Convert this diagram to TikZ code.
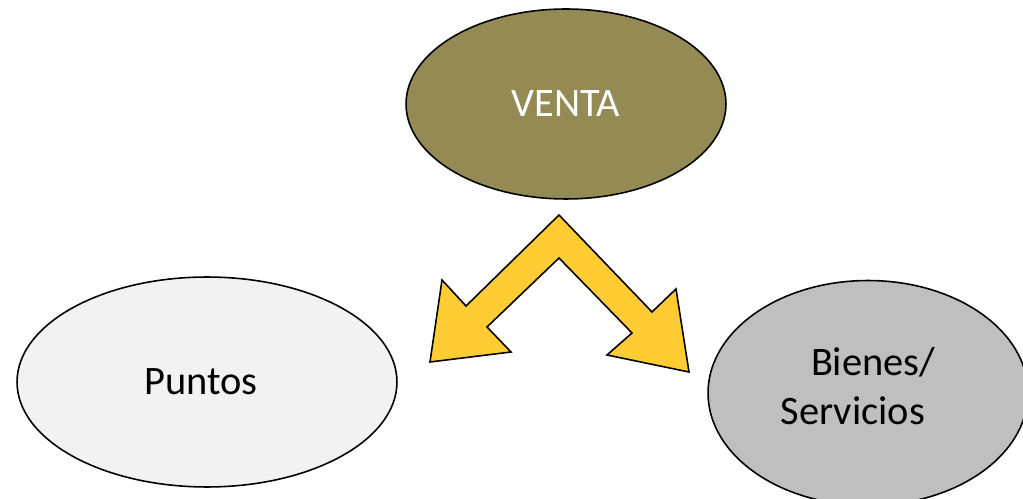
\documentclass[tikz,border=0pt]{standalone}
\usepackage{fontspec}
\setmainfont{Carlito}
\usetikzlibrary{shapes.geometric}

\definecolor{olivo}{HTML}{948A54}
\definecolor{grisclaro}{HTML}{F2F2F2}
\definecolor{grismedio}{HTML}{BFBFBF}
\definecolor{amarillo}{HTML}{FFCD33}

\tikzset{
    burbuja/.style={ellipse, draw, line width=0.9pt, font=\fontsize{23}{28}\selectfont},
    rotulo/.style={font=\fontsize{23}{28}\selectfont, align=center},
}

\begin{document}
\begin{tikzpicture}[x=0.02cm, y=-0.02cm]
        \useasboundingbox (0, 0) rectangle (1023, 499);
        \clip (0, 0) rectangle (1023, 499);
        \node[burbuja, fill=olivo, text=white, minimum width=6.4cm, minimum height=3.8cm] (venta) at (566, 104) {VENTA};
        \node[burbuja, fill=grisclaro, minimum width=7.6cm, minimum height=4.2cm] (puntos) at (207, 382) {\hspace*{-0.3em}Puntos};
        \node[burbuja, fill=grismedio, minimum width=6.4cm, minimum height=4.5cm] (bienes) at (868, 393) {};
        \node[rotulo] (bienestxt) at (868, 386) {\hspace*{0.25em}Bienes/\\Servicios\hspace*{0.75em}};
        % doble flecha
        \draw[fill=amarillo, line width=0.9pt, line join=miter] (559, 215) -- (466, 306) -- (442, 280) -- (430, 362) -- (511, 352) -- (487, 327) -- (559, 258) -- (632, 333) -- (607, 355) -- (689, 372) -- (676, 289) -- (652, 312) -- cycle;
    \end{tikzpicture}
\end{document}
